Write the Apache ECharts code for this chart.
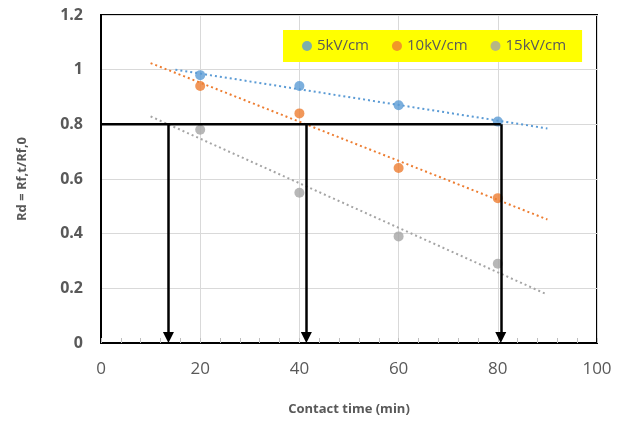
<!DOCTYPE html>
<html><head><meta charset="utf-8">
<script src="https://cdn.jsdelivr.net/npm/echarts@6/dist/echarts.min.js"></script>
<style>html,body{margin:0;padding:0;background:#fff}#c{width:621px;height:421px}</style>
</head><body><div id="c"></div>
<script>
const times = [20, 40, 60, 80];
const s5 = [0.98, 0.94, 0.87, 0.81];
const s10 = [0.94, 0.84, 0.64, 0.53];
const s15 = [0.78, 0.55, 0.39, 0.29];
const seriesNames = ['5kV/cm', '10kV/cm', '15kV/cm'];
const trend5 = [[15, 1.0], [90, 0.785]];
const trend10 = [[10, 1.024], [90, 0.452]];
const trend15 = [[10, 0.829], [90, 0.177]];
const refLevel = 0.8;
const arrowX = [13.6, 41.4, 80.6];
const xTicks = [0, 20, 40, 60, 80, 100];
const yTicks = [0, 0.2, 0.4, 0.6, 0.8, 1, 1.2];

const colors = ['#5B9BD5', '#ED7D31', '#A5A5A5'];
const pts = arr => times.map((t, i) => [t, arr[i]]);

const chart = echarts.init(document.getElementById('c'), null, {renderer: 'canvas'});
const scatterS = (name, data, col) => ({
  name, type: 'scatter', data: pts(data), symbol: 'circle', symbolSize: 10,
  itemStyle: {color: col}, z: 5
});
const trendS = (data, col) => ({
  type: 'line', data, symbol: 'none', silent: true,
  lineStyle: {color: col, width: 2, type: [2, 3]}, z: 3
});
chart.setOption({
  animation: false,
  grid: {left: 101, width: 496, top: 15, height: 330, show: true, borderColor: '#000', borderWidth: 2, backgroundColor: 'transparent'},
  legend: {
    data: seriesNames, left: 283, top: 30, width: 330,
    backgroundColor: '#FFFF00', padding: [6, 16, 6, 19], itemGap: 23,
    icon: 'circle', itemWidth: 10, itemHeight: 10,
    textStyle: {fontFamily: 'Open Sans', fontSize: 15, color: '#595959', lineHeight: 20}
  },
  xAxis: {
    type: 'value', min: xTicks[0], max: xTicks[xTicks.length - 1], interval: 20,
    name: 'Contact time (min)', nameLocation: 'middle', nameGap: 60,
    nameTextStyle: {fontFamily: 'Open Sans', fontSize: 13, fontWeight: 'bold', color: '#595959'},
    axisLine: {show: true, lineStyle: {color: '#000', width: 2}},
    axisTick: {show: true, inside: true, length: 5, lineStyle: {color: '#bfbfbf'}},
    minorTick: {show: true, splitNumber: 5, length: 5, lineStyle: {color: '#bfbfbf'}},
    axisLabel: {fontFamily: 'Open Sans', fontSize: 17, color: '#595959', margin: 18},
    splitLine: {show: true, lineStyle: {color: '#d9d9d9', width: 1}}
  },
  yAxis: {
    type: 'value', min: yTicks[0], max: yTicks[yTicks.length - 1], interval: 0.2,
    name: 'Rd = Rf,t/Rf,0', nameLocation: 'middle', nameGap: 72, nameRotate: 90,
    nameTextStyle: {fontFamily: 'Open Sans', fontSize: 13, fontWeight: 'bold', color: '#595959'},
    axisLine: {show: true, lineStyle: {color: '#000', width: 2}},
    axisTick: {show: false},
    axisLabel: {fontFamily: 'Open Sans', fontSize: 16, fontWeight: 'bold', color: '#595959', margin: 18},
    splitLine: {show: true, lineStyle: {color: '#d9d9d9', width: 1}}
  },
  series: [
    trendS(trend5, colors[0]),
    trendS(trend10, colors[1]),
    trendS(trend15, colors[2]),
    scatterS(seriesNames[0], s5, colors[0]),
    scatterS(seriesNames[1], s10, colors[1]),
    scatterS(seriesNames[2], s15, colors[2]),
    {
      type: 'line', data: [[xTicks[0], refLevel], [arrowX[2], refLevel]], symbol: 'none', silent: true,
      lineStyle: {color: '#000', width: 2.5}, z: 6
    },
    {
      type: 'lines', coordinateSystem: 'cartesian2d', silent: true, z: 6,
      symbol: ['none', 'triangle'], symbolSize: [0, 11],
      lineStyle: {color: '#000', width: 2.5, opacity: 1},
      data: arrowX.map(x => ({coords: [[x, refLevel], [x, 0.02]]}))
    }
  ]
});
</script></body></html>
